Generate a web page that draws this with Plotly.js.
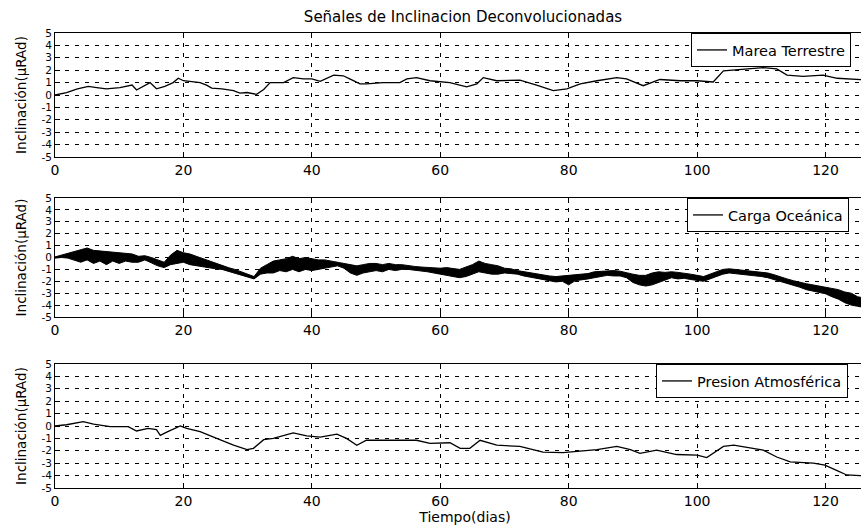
<!DOCTYPE html>
<html>
<head>
<meta charset="utf-8">
<script src="https://cdn.plot.ly/plotly-3.0.1.min.js"></script>
<style>
html,body{margin:0;padding:0;overflow:hidden;background:#fff;}
#chart{width:880px;height:527px;}
</style>
</head>
<body>
<div id="chart"></div>
<script>
// ---- Data ----
const chartTitle = "Señales de Inclinacion Deconvolucionadas";
const yTitle = "Inclinación(µRAd)";
const xTitle = "Tiempo(dias)";
const seriesNames = ["Marea Terrestre", "Carga Oceánica", "Presion Atmosférica"];
const xTicks = [0, 20, 40, 60, 80, 100, 120];
const yTicks = [-5, -4, -3, -2, -1, 0, 1, 2, 3, 4, 5];

// Marea Terrestre
const mareaX = [0,1.8,3.5,5.2,6.5,8,10.1,12,12.7,13.8,14.8,15.8,17.1,18.4,19.2,20,21.3,22.6,23.6,24.4,26,27.8,28.8,29.9,31.4,32.5,33.5,35.6,37.1,38.7,40,41.3,43.4,44.9,45.9,47.5,48.5,51.1,53.7,54.8,56.3,58.4,61.5,64.1,65.7,66.7,68.8,72.4,75,77.6,79.7,81.8,84.4,87.5,89,91.6,94.2,97.4,100,102.5,104.1,107.7,110.3,112.4,114,116.5,119.6,121.8,125.4,127];
const mareaY = [0,0.2,0.5,0.7,0.6,0.5,0.6,0.8,0.4,0.7,1.0,0.5,0.7,1.0,1.35,1.15,1.05,1.0,0.8,0.55,0.5,0.35,0.15,0.2,0.05,0.45,1.0,1.0,1.4,1.3,1.3,1.1,1.6,1.55,1.3,0.9,0.9,1.0,1.0,1.3,1.4,1.15,1.0,0.65,0.9,1.4,1.15,1.2,0.8,0.35,0.5,0.9,1.15,1.4,1.3,0.75,1.25,1.15,1.15,1.05,1.95,2.1,2.2,2.1,1.6,1.5,1.6,1.35,1.25,1.2];

// Carga Oceánica: daily centre value and the lower / upper edge of the noisy band
const cargaX = [0,1,2,3,4,5,6,7,8,9,10,11,12,13,14,15,16,17,18,19,20,21,22,23,24,25,26,27,28,29,30,31,32,33,34,35,36,37,38,39,40,41,42,43,44,45,46,47,48,49,50,51,52,53,54,55,56,57,58,59,60,61,62,63,64,65,66,67,68,69,70,71,72,73,74,75,76,77,78,79,80,81,82,83,84,85,86,87,88,89,90,91,92,93,94,95,96,97,98,99,100,101,102,103,104,105,106,107,108,109,110,111,112,113,114,115,116,117,118,119,120,121,122,123,124,125,126];
const cargaY = [0,0.1,0.15,0.2,0.2,0.25,0.1,0.1,0.05,0,0,-0.05,-0.1,-0.15,0,-0.2,-0.4,-0.6,-0.3,-0.1,0,-0.1,-0.25,-0.4,-0.55,-0.7,-0.85,-1.0,-1.15,-1.3,-1.5,-1.7,-1.2,-0.9,-0.7,-0.6,-0.6,-0.5,-0.55,-0.6,-0.6,-0.5,-0.55,-0.5,-0.5,-0.7,-0.9,-1.0,-0.9,-0.8,-0.8,-0.8,-0.75,-0.8,-0.8,-0.85,-0.9,-0.95,-1.0,-1.05,-1.1,-1.1,-1.2,-1.3,-1.2,-1.0,-0.8,-0.9,-1.0,-1.05,-1.1,-1.15,-1.25,-1.35,-1.45,-1.55,-1.65,-1.75,-1.8,-1.75,-1.75,-1.7,-1.65,-1.55,-1.45,-1.35,-1.3,-1.3,-1.35,-1.5,-1.7,-1.85,-1.9,-1.7,-1.6,-1.5,-1.45,-1.5,-1.55,-1.6,-1.7,-1.8,-1.6,-1.4,-1.2,-1.1,-1.15,-1.25,-1.3,-1.35,-1.4,-1.5,-1.65,-1.85,-2.0,-2.15,-2.3,-2.45,-2.55,-2.65,-2.75,-2.9,-3.1,-3.3,-3.5,-3.7,-3.8];
const cargaLow = [-0.05,0,-0.05,-0.2,-0.4,-0.2,-0.5,-0.3,-0.6,-0.3,-0.5,-0.3,-0.4,-0.4,-0.2,-0.45,-0.7,-0.85,-0.6,-0.5,-0.4,-0.6,-0.7,-0.8,-0.9,-0.95,-1.0,-1.15,-1.3,-1.45,-1.6,-1.8,-1.4,-1.3,-1.3,-1.1,-1.2,-1.0,-1.2,-1.0,-1.1,-1.0,-0.9,-0.8,-0.7,-0.9,-1.3,-1.5,-1.3,-1.2,-1.1,-1.2,-1.0,-1.1,-1.0,-1.0,-1.05,-1.15,-1.2,-1.3,-1.4,-1.5,-1.6,-1.7,-1.6,-1.4,-1.2,-1.3,-1.4,-1.4,-1.3,-1.35,-1.4,-1.55,-1.65,-1.75,-1.9,-2.0,-2.05,-2.0,-2.3,-1.95,-1.9,-1.8,-1.7,-1.6,-1.5,-1.55,-1.55,-1.7,-2.1,-2.3,-2.4,-2.3,-2.1,-1.9,-1.7,-1.8,-1.75,-1.85,-1.9,-2.0,-1.8,-1.6,-1.4,-1.3,-1.35,-1.45,-1.5,-1.55,-1.6,-1.7,-1.85,-2.05,-2.2,-2.35,-2.5,-2.7,-2.8,-2.9,-3.05,-3.3,-3.5,-3.8,-4.0,-4.1,-4.2];
const cargaHigh = [0.05,0.2,0.35,0.5,0.7,0.8,0.6,0.55,0.5,0.45,0.4,0.35,0.3,0.1,0.15,0,-0.2,-0.4,0.2,0.6,0.4,0.3,0.1,-0.1,-0.3,-0.5,-0.7,-0.85,-1.0,-1.2,-1.4,-1.6,-0.9,-0.6,-0.3,-0.2,-0.1,0.1,-0.1,0,-0.1,-0.2,-0.2,-0.3,-0.35,-0.5,-0.6,-0.7,-0.6,-0.5,-0.5,-0.6,-0.5,-0.6,-0.6,-0.7,-0.75,-0.8,-0.85,-0.9,-0.9,-0.85,-0.9,-1.0,-0.8,-0.6,-0.3,-0.5,-0.6,-0.7,-0.9,-0.95,-1.1,-1.2,-1.3,-1.4,-1.45,-1.55,-1.6,-1.55,-1.5,-1.5,-1.45,-1.35,-1.2,-1.15,-1.1,-1.1,-1.15,-1.3,-1.4,-1.5,-1.5,-1.3,-1.2,-1.25,-1.2,-1.25,-1.3,-1.4,-1.5,-1.6,-1.4,-1.2,-1.0,-0.95,-1.0,-1.05,-1.1,-1.15,-1.2,-1.3,-1.45,-1.65,-1.8,-1.95,-2.1,-2.2,-2.3,-2.4,-2.45,-2.55,-2.7,-2.9,-3.0,-3.3,-3.4];

// Presion Atmosférica
const presionX = [0,1.8,4.4,6,8.6,11.4,12.7,14.5,15.8,16.4,17.4,19.5,20.5,22.6,24.7,27.8,29.9,30.9,32.5,34,37.1,39.2,41.3,43.9,45.4,47,48.5,51.6,53.7,56.3,58.4,61.5,63.1,64.6,66.2,68.8,72.4,76,79.1,81.8,84.4,87.5,89.6,91.1,93.7,96.8,100,101.5,104.1,105.7,107.7,110.3,112.4,114.5,118.1,119.9,121.8,123.3,125.4,127];
const presionY = [0,0.1,0.35,0.15,-0.05,-0.05,-0.4,-0.2,-0.3,-0.75,-0.5,0,-0.2,-0.45,-0.9,-1.55,-1.9,-1.8,-1.1,-1.0,-0.55,-0.8,-0.9,-0.65,-1.0,-1.55,-1.15,-1.15,-1.1,-1.15,-1.4,-1.35,-1.8,-1.8,-1.15,-1.55,-1.65,-2.1,-2.15,-2.0,-1.9,-1.65,-1.9,-2.2,-1.95,-2.3,-2.35,-2.55,-1.65,-1.55,-1.7,-1.95,-2.5,-2.9,-3.0,-3.15,-3.6,-3.95,-4.0,-4.0];

// ---- Figure ----
const W = 880, H = 527;
const FONT = "DejaVu Sans, Liberation Sans, Arial, sans-serif";
const xDom = [55 / W, 875 / W];
const panels = [[33, 157], [198, 317], [364, 488]]; // pixel top/bottom of each axes box

function yDomain(p) { return [1 - p[1] / H, 1 - p[0] / H]; }

function xAxis(anchor, withTitle) {
  const ax = {
    domain: xDom, anchor: anchor, range: [0, 127.7],
    tickvals: xTicks, ticktext: xTicks.map(String),
    ticks: "inside", ticklen: 5, tickcolor: "#000",
    showline: true, linecolor: "#000", linewidth: 1, mirror: "ticks",
    showgrid: true, gridcolor: "#000", gridwidth: 1, griddash: "4px,6px",
    zeroline: false, fixedrange: true,
    tickfont: { family: FONT, size: 14, color: "#000" }
  };
  if (withTitle) ax.title = { text: xTitle, standoff: 3, font: { family: FONT, size: 14, color: "#000" } };
  return ax;
}
function yAxis(anchor, p) {
  return {
    domain: yDomain(p), anchor: anchor, range: [-5, 5],
    tickvals: yTicks, ticktext: yTicks.map(String),
    ticks: "inside", ticklen: 5, tickcolor: "#000",
    showline: true, linecolor: "#000", linewidth: 1, mirror: "ticks",
    showgrid: true, gridcolor: "#000", gridwidth: 1, griddash: "4px,6px",
    zeroline: false, fixedrange: true,
    tickfont: { family: FONT, size: 10.5, color: "#000" },
    title: { text: yTitle, standoff: 11, font: { family: FONT, size: 13.5, color: "#000" } }
  };
}
function legendAt(leftPx, p) {
  return {
    x: leftPx / W, xanchor: "left", y: 1 - p[0] / H, yanchor: "top",
    bgcolor: "#fff", bordercolor: "#000", borderwidth: 1,
    font: { family: FONT, size: 14.5, color: "#000" },
    itemwidth: 30, tracegroupgap: 0
  };
}

const lineStyle = { color: "#000", width: 1.3 };
const traces = [
  { x: mareaX, y: mareaY, type: "scatter", mode: "lines", name: seriesNames[0],
    line: lineStyle, xaxis: "x", yaxis: "y", legend: "legend" },
  { x: cargaX, y: cargaLow, type: "scatter", mode: "lines", showlegend: false,
    line: { color: "#000", width: 1 }, xaxis: "x2", yaxis: "y2", hoverinfo: "skip" },
  { x: cargaX, y: cargaHigh, type: "scatter", mode: "lines", showlegend: false, fill: "tonexty",
    fillcolor: "#000", line: { color: "#000", width: 1 }, xaxis: "x2", yaxis: "y2", hoverinfo: "skip" },
  { x: cargaX, y: cargaY, type: "scatter", mode: "lines", name: seriesNames[1],
    line: lineStyle, xaxis: "x2", yaxis: "y2", legend: "legend2" },
  { x: presionX, y: presionY, type: "scatter", mode: "lines", name: seriesNames[2],
    line: lineStyle, xaxis: "x3", yaxis: "y3", legend: "legend3" }
];

const layout = {
  width: W, height: H,
  margin: { l: 0, r: 0, t: 0, b: 0 },
  paper_bgcolor: "#fff", plot_bgcolor: "#fff",
  showlegend: true,
  title: { text: chartTitle, x: 463 / W, xanchor: "center", y: 1 - 17 / H, yanchor: "middle",
           font: { family: FONT, size: 15, color: "#000" } },
  xaxis: xAxis("y", false), yaxis: yAxis("x", panels[0]),
  xaxis2: xAxis("y2", false), yaxis2: yAxis("x2", panels[1]),
  xaxis3: xAxis("y3", true), yaxis3: yAxis("x3", panels[2]),
  legend: legendAt(691, panels[0]),
  legend2: legendAt(687, panels[1]),
  legend3: legendAt(656, panels[2])
};

Plotly.newPlot("chart", traces, layout, { displayModeBar: false, staticPlot: true });
</script>
</body>
</html>
